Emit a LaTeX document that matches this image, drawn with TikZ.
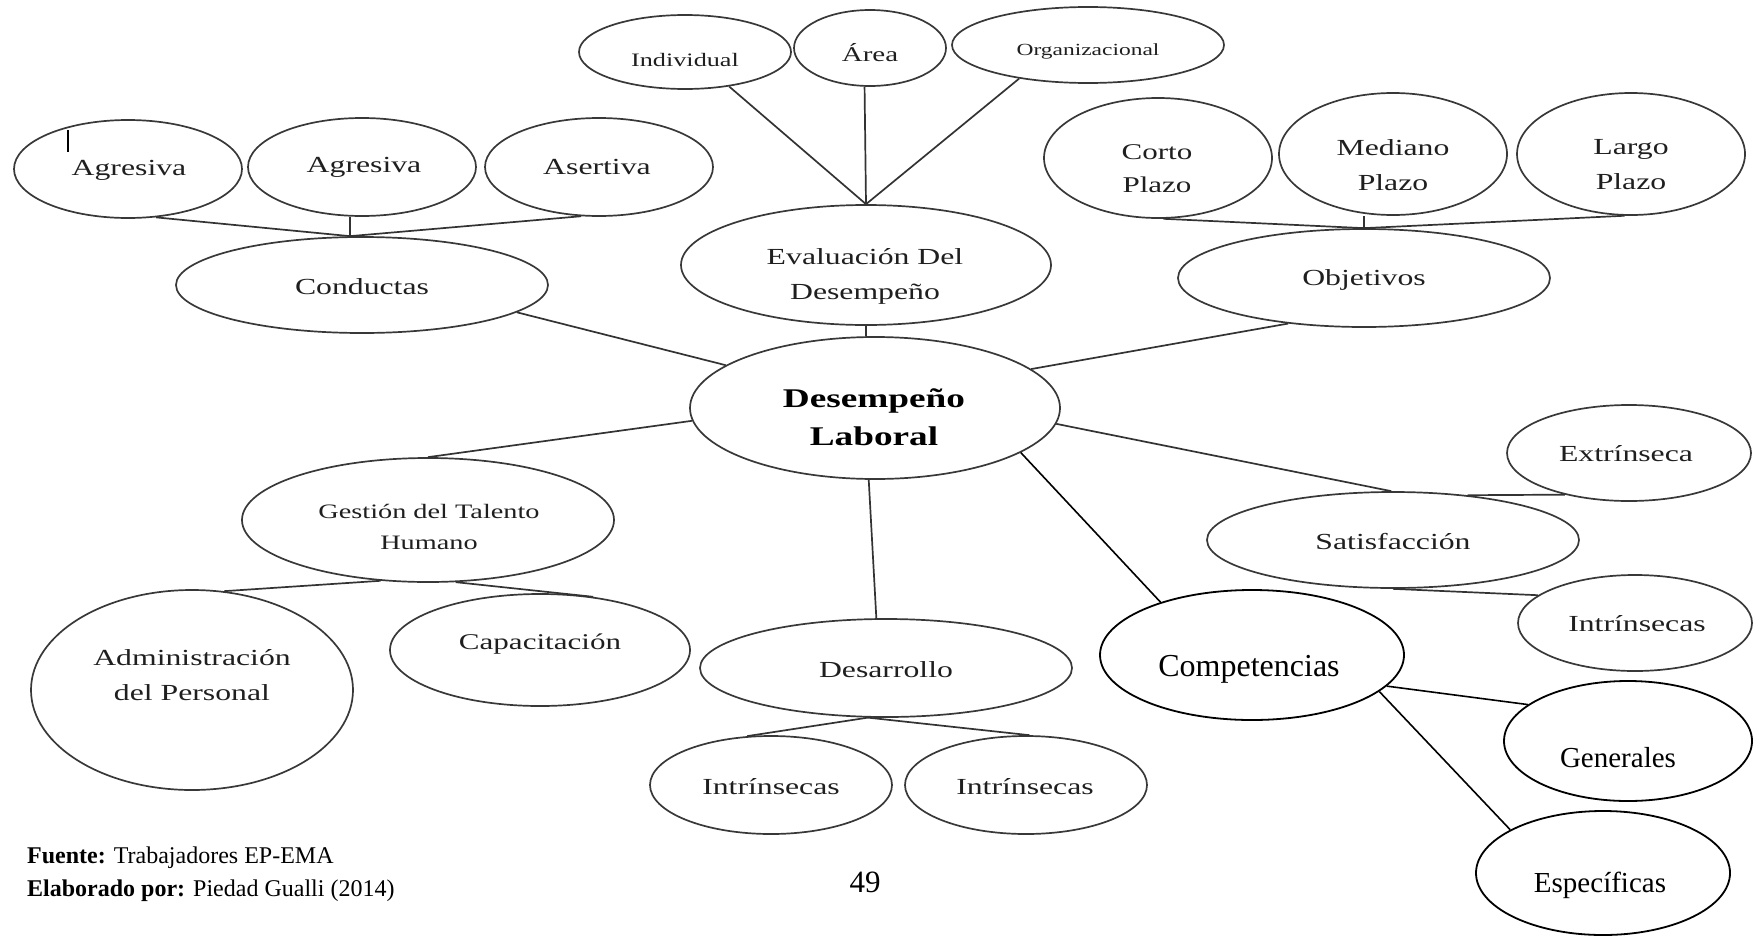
\documentclass[tikz,border=0pt]{standalone}
\usepackage{fontspec}
\setmainfont{Liberation Serif}
\newfontfamily\wf[FakeStretch=1.38]{Liberation Serif}
\usetikzlibrary{shapes.geometric}
\tikzset{
  ell/.style={ellipse, draw=black!78, line width=1.7pt, inner sep=0pt},
  ellk/.style={ellipse, draw=black, line width=1.8pt, inner sep=0pt},
  sz/.style 2 args={minimum width=#1pt, minimum height=#2pt},
  con/.style={draw=black!80, line width=1.7pt},
  conk/.style={draw=black, line width=1.6pt},
  txt/.style={inner sep=0pt, align=center, text=black!88},
  txk/.style={inner sep=0pt, align=center, text=black},
  fw/.style={font=\wf\fontsize{#1}{34}\selectfont},
}
\begin{document}
\begin{tikzpicture}[x=1pt, y=-1pt]
\useasboundingbox (0,0) rectangle (1753,937);
% ellipses
\node[ell, sz={212}{74}] (ind) at (685,52) {};
\node[ell, sz={152}{76}] (area) at (870,48) {};
\node[ell, sz={272}{76}] (org) at (1088,45) {};
\node[ell, sz={228}{98}] (ag1) at (128,169) {};
\node[ell, sz={228}{98}] (ag2) at (362,167) {};
\node[ell, sz={228}{98}] (ase) at (599,167) {};
\node[ell, sz={372}{96}] (cond) at (362,285) {};
\node[ell, sz={370}{120}] (eval) at (866,265) {};
\node[ell, sz={370}{142}] (des) at (875,408) {};
\node[ell, sz={228}{120}] (corto) at (1158,158) {};
\node[ell, sz={228}{122}] (med) at (1393,154) {};
\node[ell, sz={228}{122}] (largo) at (1631,154) {};
\node[ell, sz={372}{98}] (obj) at (1364,278) {};
\node[ell, sz={372}{124}] (gest) at (428,520) {};
\node[ell, sz={322}{200}] (adm) at (192,690) {};
\node[ell, sz={300}{112}] (cap) at (540,650) {};
\node[ell, sz={372}{98}] (desa) at (886,668) {};
\node[ell, sz={242}{98}] (int1) at (771,785) {};
\node[ell, sz={242}{98}] (int2) at (1026,785) {};
\node[ell, sz={372}{96}] (sat) at (1393,540) {};
\node[ell, sz={244}{96}] (ext) at (1629,453) {};
\node[ell, sz={234}{96}] (intr) at (1635,623) {};
\node[ellk, sz={304}{130}] (comp) at (1252,655) {};
\node[ellk, sz={248}{120}] (gen) at (1628,741) {};
\node[ellk, sz={254}{124}] (esp) at (1603,873) {};
% junctions
\coordinate (j1) at (eval.north);
\coordinate (j2) at ([xshift=-12pt]cond.north);
\coordinate (j3) at (obj.north);
\coordinate (j4) at (desa.-110);
\coordinate (tk1) at (68,130);
\coordinate (tk2) at (68,152);
% connectors
\draw[con] (ind.-38) -- (j1);
\draw[con] (area.-98) -- (j1);
\draw[con] (org.-154) -- (j1);
\draw[con] (eval.south) -- (eval.south |- des.north);
\draw[con] (ag1.-60) -- (j2);
\draw[con] (ase.-110) -- (j2);
\draw[con] (j2) -- (j2 |- ag2.south);
\draw[con] (cond.-10) -- (des.164);
\draw[con] (corto.-85) -- (j3);
\draw[con] (largo.-96) -- (j3);
\draw[con] (j3) -- (j3 |- med.south);
\draw[con] (obj.-149) -- (des.14);
\draw[con] (des.-176) -- (gest.north);
\draw[con] (gest.-128) -- (adm.72);
\draw[con] (gest.-66) -- (cap.45);
\draw[con] (des.-95) -- (desa.101);
\draw[con] (j4) -- (int1.116);
\draw[con] (j4) -- (int2.86);
\draw[con] (des.-5) -- (sat.92);
\draw[con] (sat.31) -- (ext.-147);
\draw[con] (sat.-90) -- (intr.164);
\draw[conk] (des.-17) -- (comp.150);
\draw[conk] (comp.-13) -- (gen.160);
\draw[conk] (comp.-16) -- (esp.155);
\draw[draw=black, line width=2pt] (tk1) -- (tk2);
% texts
\node[txt, fw=19] (ind-t) at (685,60) {Individual};
\node[txt, fw=21] (area-t) at (870,53) {Área};
\node[txt, fw=17] (org-t) at (1088,51) {Organizacional};
\node[txt, fw=23] (ag1-t) at (129,170) {Agresiva};
\node[txt, fw=23] (ag2-t) at (364,167) {Agresiva};
\node[txt, fw=23] (ase-t) at (597,167) {Asertiva};
\node[txt, fw=23] (cond-t) at (362,287) {Conductas};
\node[txt, font=\wf\fontsize{23}{35}\selectfont] (eval-t) at (865,276) {Evaluación Del\\Desempeño};
\node[txt, font=\wf\fontsize{22.5}{33}\selectfont] (corto-t) at (1157,169) {Corto\\Plazo};
\node[txt, font=\wf\fontsize{23}{35}\selectfont] (med-t) at (1393,165) {Mediano\\Plazo};
\node[txt, font=\wf\fontsize{23}{35}\selectfont] (largo-t) at (1631,165) {Largo\\Plazo};
\node[txt, fw=23] (obj-t) at (1364,280) {Objetivos};
\node[txt, font=\wf\bfseries\fontsize{27}{38}\selectfont, text=black] (des-t) at (874,417) {Desempeño\\Laboral};
\node[txt, font=\wf\fontsize{20.5}{31}\selectfont] (gest-t) at (429,527) {Gestión del Talento\\Humano};
\node[txt, font=\wf\fontsize{23}{35}\selectfont] (adm-t) at (192,675) {Administración\\del Personal};
\node[txt, fw=22.5] (cap-t) at (540,644) {Capacitación};
\node[txt, fw=23] (desa-t) at (886,670) {Desarrollo};
\node[txt, fw=23] (int1-t) at (771,787) {Intrínsecas};
\node[txt, fw=23] (int2-t) at (1025,787) {Intrínsecas};
\node[txt, fw=23] (sat-t) at (1393,542) {Satisfacción};
\node[txt, fw=23] (ext-t) at (1626,454) {Extrínseca};
\node[txt, fw=23] (intr-t) at (1637,624) {Intrínsecas};
\node[txk, font=\fontsize{32}{36}\selectfont] (comp-t) at (1249,669) {Competencias};
\node[txk, font=\fontsize{29}{34}\selectfont] (gen-t) at (1618,758) {Generales};
\node[txk, font=\fontsize{29}{34}\selectfont] (esp-t) at (1600,885) {Específicas};
\node[txk, font=\fontsize{31}{34}\selectfont] (page) at (865,882) {49};
\node[txk, anchor=base west, font=\fontsize{24}{28}\selectfont] (src) at (27,863) {\textbf{Fuente:} Trabajadores EP-EMA};
\node[txk, anchor=base west, font=\fontsize{24}{28}\selectfont] (auth) at (27,896) {\textbf{Elaborado por:} Piedad Gualli (2014)};
\end{tikzpicture}
\end{document}
